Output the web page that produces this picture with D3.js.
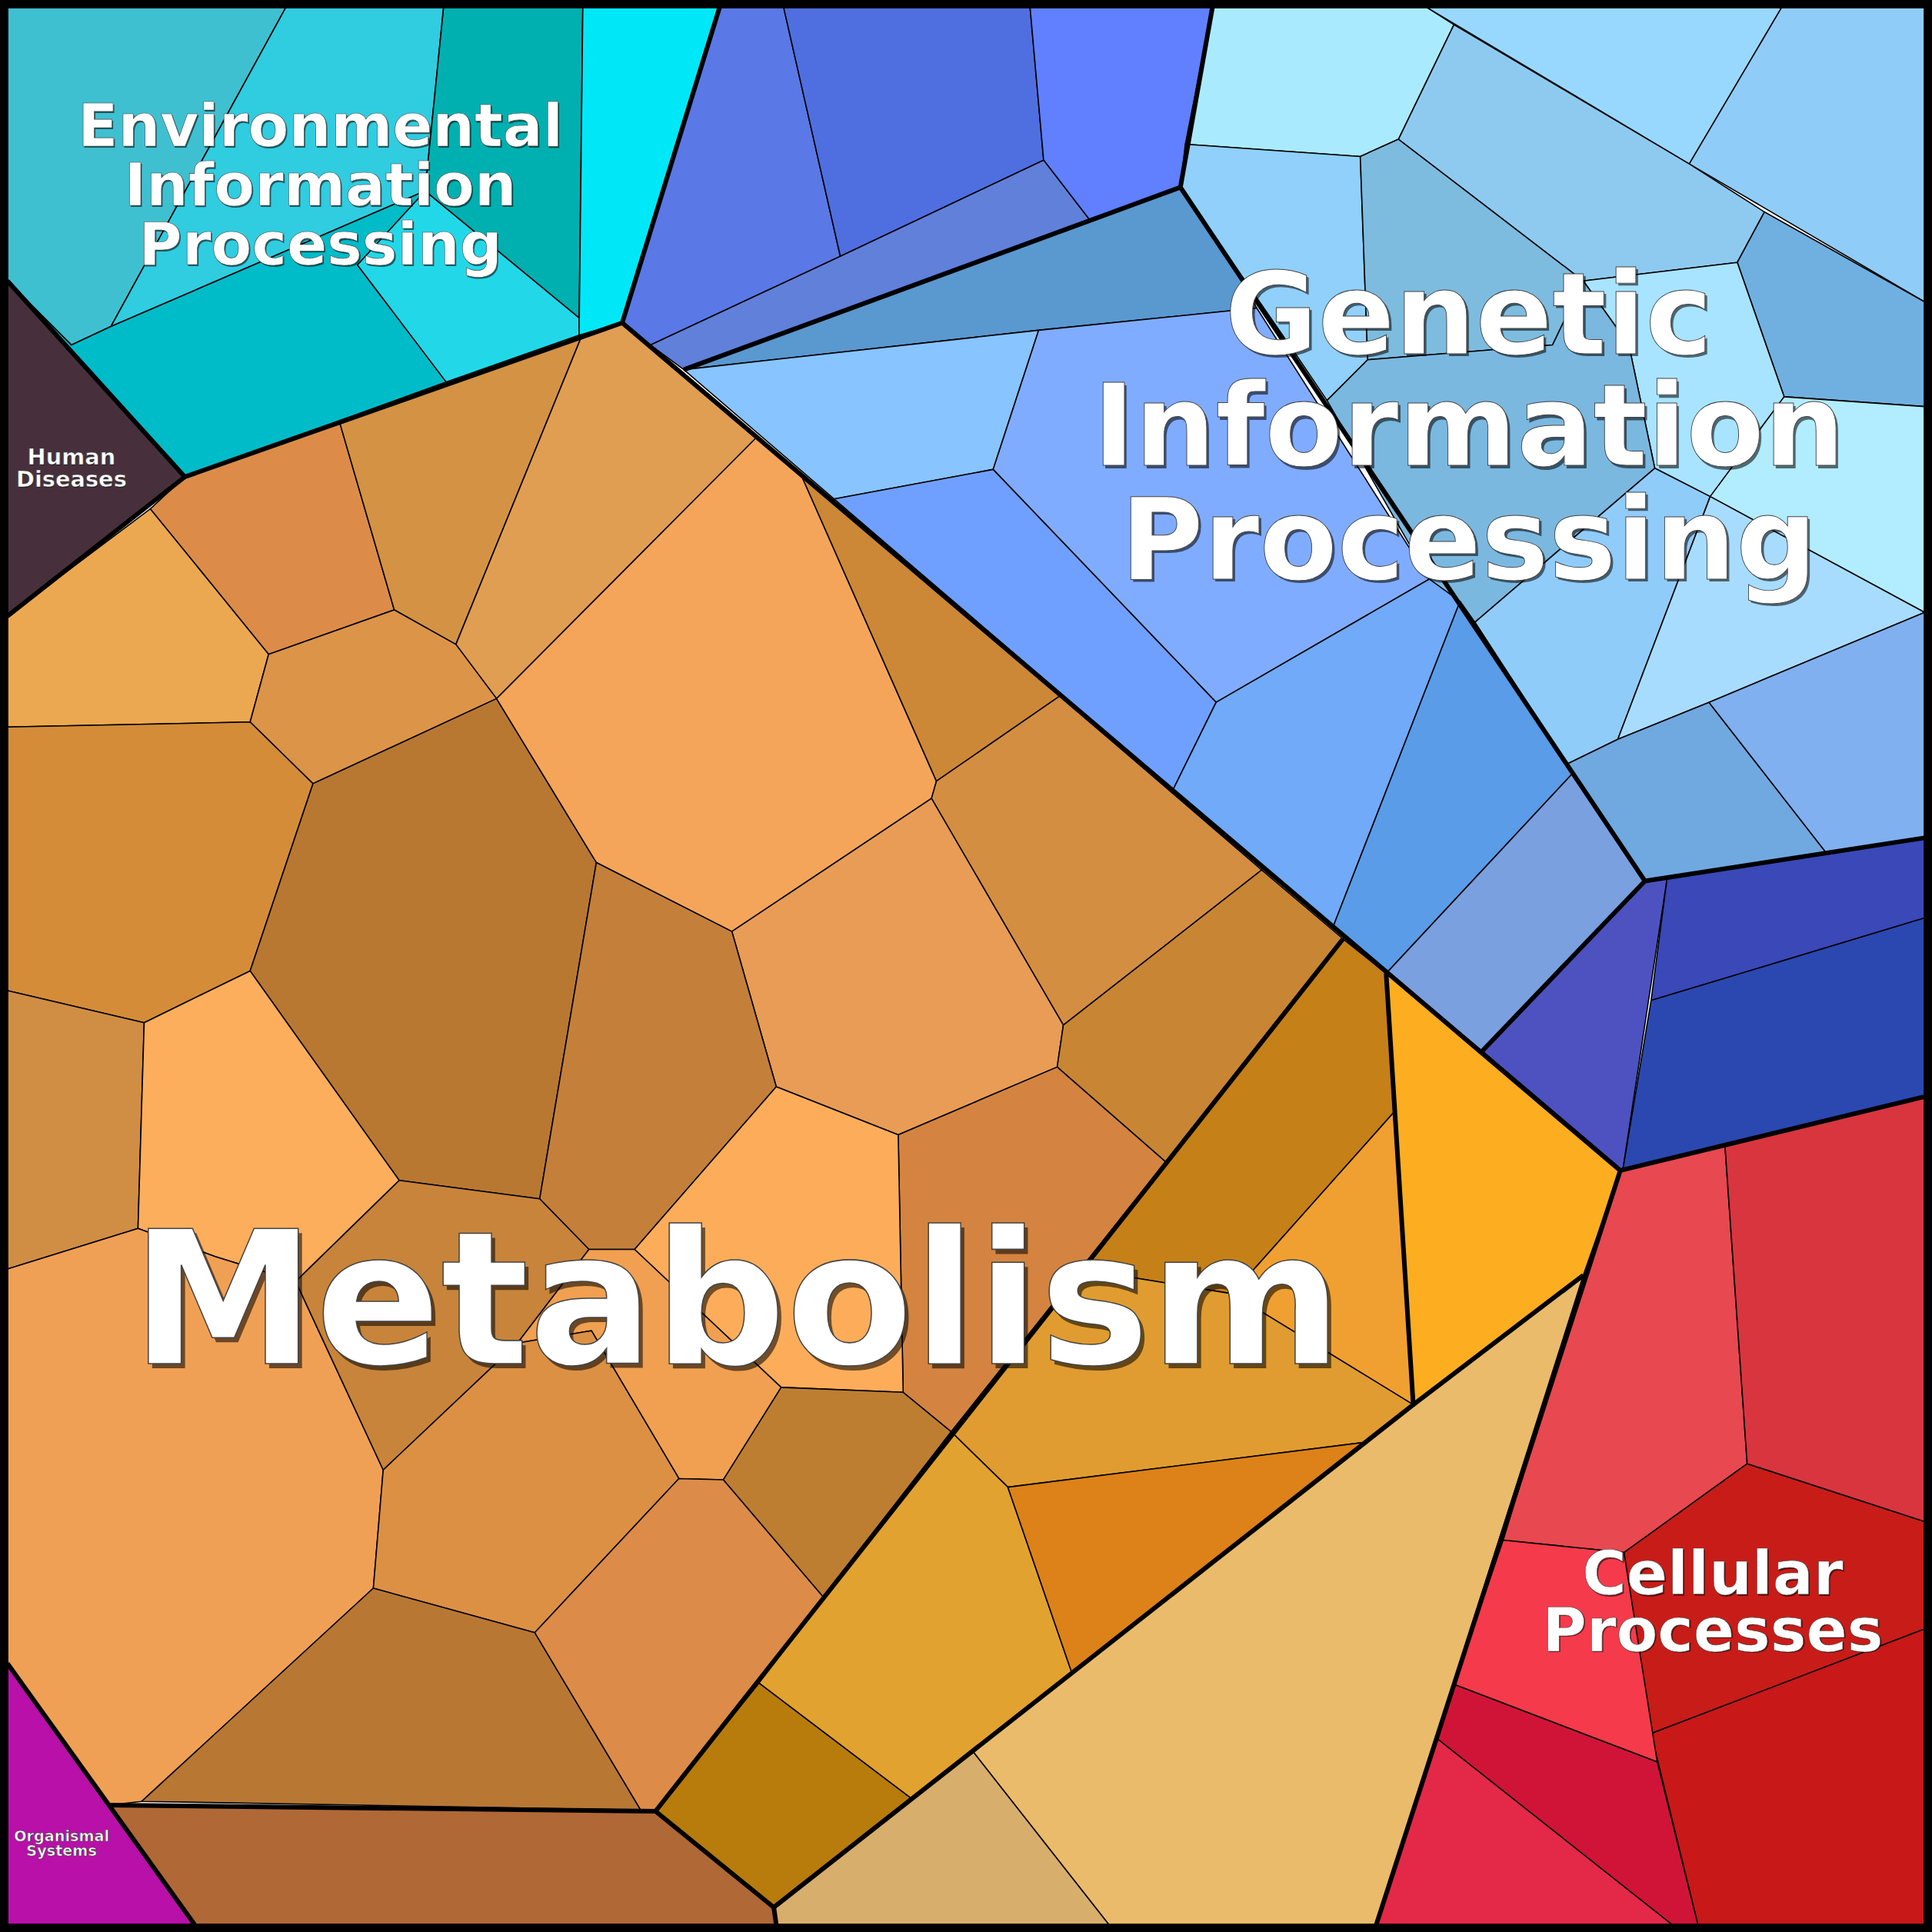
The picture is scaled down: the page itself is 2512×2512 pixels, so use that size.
<!DOCTYPE html>
<html>
<head>
<meta charset="utf-8">
<script src="https://cdn.jsdelivr.net/npm/d3@7"></script>
<style>
  body { margin: 0; background: #fff; }
  svg { display: block; }
</style>
</head>
<body>
<svg id="chart" width="2512" height="2512"></svg>
<script>
// Cell outlines (reference units, 0..1568), with fill colour
const environmentalCells = [
  ["#3fc0d0", [[6,6],[232,6],[90,265],[58,280],[6,228]]],
  ["#30cce0", [[232,6],[360,6],[345,155],[90,265]]],
  ["#00b0b0", [[360,6],[473,6],[470,258],[345,155]]],
  ["#00e8f8", [[473,6],[584,6],[505,262],[470,272]]],
  ["#22d8e8", [[345,155],[470,258],[470,272],[362,310],[290,215]]],
  ["#00bcc8", [[58,280],[90,265],[345,155],[290,215],[362,310],[150,387],[6,228]]]
];
const humanCells = [
  ["#47303c", [[6,228],[150,387],[6,500]]]
];
const organismalCells = [
  ["#b810a8", [[6,1350],[158,1562],[6,1562]]]
];
const geneticCells = [
  // upper-left dark blue group
  ["#5a78e6", [[584,6],[636,6],[682,208],[528,280],[505,262]]],
  ["#4f6fe0", [[636,6],[836,6],[847,130],[682,208]]],
  ["#6080ff", [[836,6],[984,6],[958,152],[884,178],[847,130]]],
  ["#6080da", [[528,280],[682,208],[847,130],[884,178],[555,300]]],
  // light blue group
  ["#aaeaff", [[984,6],[1158,6],[1180,20],[1135,113],[1104,127],[962,117]]],
  ["#98d8ff", [[1158,6],[1446,6],[1371,133]]],
  ["#90ccf8", [[1446,6],[1562,6],[1562,245],[1371,133]]],
  ["#8ecaf0", [[1180,20],[1371,133],[1432,172],[1410,213],[1285,228],[1135,113]]],
  ["#90d0fa", [[962,117],[1104,127],[1110,292],[1077,325],[1050,285],[958,152]]],
  ["#7dbcdf", [[1104,127],[1135,113],[1285,228],[1260,280],[1110,292]]],
  ["#70b0e0", [[1432,172],[1562,245],[1562,330],[1448,322],[1410,213]]],
  ["#a8e4ff", [[1410,213],[1448,322],[1388,403],[1343,380],[1322,280],[1285,228]]],
  ["#b2ecff", [[1448,322],[1562,330],[1562,497],[1388,403]]],
  ["#7ab8e0", [[1110,292],[1260,280],[1285,228],[1322,280],[1343,380],[1197,505],[1160,470],[1077,325]]],
  ["#90ccfa", [[1343,380],[1388,403],[1313,600],[1272,620],[1197,505]]],
  ["#a8dcff", [[1388,403],[1562,497],[1387,570],[1313,600]]],
  ["#70a8e0", [[1313,600],[1387,570],[1482,692],[1335,715],[1272,620]]],
  ["#80b0f0", [[1387,570],[1562,497],[1562,680],[1482,692]]],
  // middle blue group
  ["#5a98d0", [[555,300],[958,152],[1005,222],[1020,250],[843,268]]],
  ["#88c4ff", [[555,300],[843,268],[806,381],[677,405]]],
  ["#80acff", [[843,268],[1020,250],[1160,470],[987,570],[806,381]]],
  ["#70a0ff", [[677,405],[806,381],[987,570],[952,641]]],
  ["#70aaf8", [[987,570],[1160,470],[1185,488],[1082,752],[952,641]]],
  ["#5a9ce8", [[1185,488],[1197,505],[1276,628],[1125,790],[1082,752]]],
  ["#7aa0e0", [[1276,628],[1335,715],[1203,853],[1125,790]]],
  // indigo group
  ["#4e52c0", [[1203,853],[1335,715],[1353,713],[1317,950]]],
  ["#3a48b8", [[1353,713],[1562,680],[1562,745],[1340,812]]],
  ["#2a48b0", [[1340,812],[1562,745],[1562,890],[1317,950]]]
];
const cellularCells = [
  ["#e84850", [[1315,950],[1400,930],[1418,1188],[1318,1260],[1220,1250],[1285,1035]]],
  ["#d8353f", [[1400,930],[1562,890],[1562,1235],[1418,1188]]],
  ["#c81c18", [[1418,1188],[1562,1235],[1562,1322],[1340,1407],[1318,1260]]],
  ["#c81818", [[1340,1407],[1562,1322],[1562,1562],[1378,1562]]],
  ["#f53a4b", [[1220,1250],[1318,1260],[1345,1430],[1180,1367]]],
  ["#d01438", [[1180,1367],[1345,1430],[1378,1562],[1357,1562],[1165,1410]]],
  ["#e42848", [[1165,1410],[1357,1562],[1117,1562]]]
];
const metabolismCells = [
  ["#dc8c48", [[150,387],[276,344],[320,495],[218,531],[122,413]]],
  ["#d49244", [[276,344],[472,273],[370,523],[320,495]]],
  ["#e09e52", [[472,273],[505,262],[614,355],[403,567],[370,523]]],
  ["#eca850", [[6,500],[122,413],[218,531],[203,586],[6,590]]],
  ["#dc9448", [[218,531],[320,495],[370,523],[403,567],[254,636],[203,586]]],
  ["#d48c38", [[6,590],[203,586],[254,636],[203,788],[117,830],[6,804]]],
  ["#b87832", [[254,636],[403,567],[484,700],[438,973],[324,958],[203,788]]],
  ["#f5a55a", [[403,567],[614,355],[650,385],[760,634],[756,648],[594,756],[484,700]]],
  ["#cc8836", [[650,385],[860,565],[760,634]]],
  ["#d48e42", [[760,634],[860,565],[1024,706],[863,832],[756,648]]],
  ["#e89c56", [[594,756],[756,648],[863,832],[858,866],[729,921],[630,882]]],
  ["#c4803a", [[484,700],[594,756],[630,882],[515,1014],[478,1014],[438,973]]],
  ["#d08e44", [[6,804],[117,830],[112,997],[6,1030]]],
  ["#fcae5c", [[117,830],[203,788],[324,958],[240,1040],[175,1020],[112,997]]],
  ["#c88634", [[858,866],[863,832],[1024,706],[1090,762],[946,943]]],
  ["#d48440", [[729,921],[858,866],[946,943],[772,1162],[733,1130]]],
  ["#fdad5a", [[630,882],[729,921],[733,1130],[634,1126],[515,1014]]],
  ["#f0a055", [[6,1030],[112,997],[175,1020],[240,1040],[311,1193],[303,1289],[115,1462],[88,1465],[6,1350]]],
  ["#c8843a", [[240,1040],[324,958],[438,973],[478,1014],[420,1090],[311,1193]]],
  ["#f0a050", [[478,1014],[515,1014],[634,1126],[587,1201],[551,1200],[480,1080],[420,1090]]],
  ["#dc9044", [[311,1193],[420,1090],[480,1080],[551,1200],[434,1325],[303,1289]]],
  ["#be7e32", [[587,1201],[634,1126],[733,1130],[772,1162],[668,1296]]],
  ["#b87834", [[303,1289],[434,1325],[520,1469],[115,1462]]],
  ["#dc8c48", [[434,1325],[551,1200],[587,1201],[668,1296],[532,1470],[520,1469]]],
  ["#b06836", [[88,1465],[532,1470],[628,1548],[630,1562],[158,1562]]],
  // orange group
  ["#c68018", [[1090,762],[1125,790],[1131,903],[1000,1050],[877,1030],[946,943]]],
  ["#f0a030", [[1131,903],[1147,1140],[1000,1050]]],
  ["#e09c30", [[877,1030],[1000,1050],[1147,1140],[1112,1170],[818,1207],[772,1162]]],
  ["#e2a230", [[772,1162],[818,1207],[870,1358],[740,1460],[616,1366]]],
  ["#dc8218", [[818,1207],[1112,1170],[870,1358]]],
  ["#b87c0c", [[532,1470],[616,1366],[740,1460],[628,1548]]],
  ["#fcae20", [[1125,790],[1315,950],[1285,1035],[1147,1140]]],
  ["#eabb6a", [[870,1358],[1147,1140],[1285,1035],[1117,1562],[900,1562],[790,1422]]],
  ["#d8ae6c", [[790,1422],[900,1562],[630,1562],[628,1548],[740,1460]]]
];

// Thick boundaries between groups
const groupBorders = [
  [[6,228],[150,387],[505,262],[584,6]],
  [[150,387],[6,500]],
  [[505,262],[1315,950],[1562,890]],
  [[1315,950],[1117,1562]],
  [[6,1350],[158,1562]],
  [[555,300],[958,152],[984,6]],
  [[958,152],[1335,715],[1562,680]],
  [[1335,715],[1203,853]],
  [[1090,762],[532,1470],[628,1548],[630,1562]],
  [[88,1465],[532,1470]],
  [[1125,790],[1147,1140],[628,1548]],
  [[1147,1140],[1285,1035]]
];

const labels = [
  {lines: ["Environmental", "Information", "Processing"], x: 260, y: [102, 150, 198], size: 48},
  {lines: ["Genetic", "Information", "Processing"], x: 1192, y: [255, 346, 438], size: 92},
  {lines: ["Metabolism"], x: 598, y: [1055], size: 150},
  {lines: ["Cellular", "Processes"], x: 1390, y: [1277, 1323], size: 49},
  {lines: ["Human", "Diseases"], x: 58, y: [371, 389], size: 18},
  {lines: ["Organismal", "Systems"], x: 50, y: [1490, 1502], size: 12}
];

const svg = d3.select("#chart");
const s = d3.scaleLinear().domain([0, 1568]).range([0, 2512]);
const line = d3.line().x(d => s(d[0])).y(d => s(d[1]));

const allCells = [].concat(environmentalCells, humanCells, organismalCells,
  geneticCells, cellularCells, metabolismCells);

svg.append("g")
  .selectAll("path")
  .data(allCells)
  .join("path")
  .attr("d", d => line(d[1]) + "Z")
  .attr("fill", d => d[0])
  .attr("stroke", "#000")
  .attr("stroke-width", 1.6)
  .attr("stroke-linejoin", "round");

svg.append("g")
  .selectAll("path")
  .data(groupBorders)
  .join("path")
  .attr("d", d => line(d))
  .attr("fill", "none")
  .attr("stroke", "#000")
  .attr("stroke-width", 6)
  .attr("stroke-linejoin", "round");

// outer frame
svg.append("rect")
  .attr("x", s(3)).attr("y", s(3))
  .attr("width", s(1562)).attr("height", s(1562))
  .attr("fill", "none")
  .attr("stroke", "#000")
  .attr("stroke-width", 12);

const lg = svg.append("g")
  .attr("font-family", "DejaVu Sans, sans-serif")
  .attr("font-weight", "bold")
  .attr("text-anchor", "middle")
  .attr("dominant-baseline", "central");

labels.forEach(l => {
  l.lines.forEach((t, i) => {
    // soft dark shadow behind the label
    lg.append("text")
      .attr("x", s(l.x) + s(l.size) * 0.02)
      .attr("y", s(l.y[i]) + s(l.size) * 0.025)
      .attr("font-size", s(l.size))
      .attr("fill", "#000")
      .attr("opacity", 0.55)
      .text(t);
    lg.append("text")
      .attr("x", s(l.x))
      .attr("y", s(l.y[i]))
      .attr("font-size", s(l.size))
      .attr("fill", "#fff")
      .attr("stroke", "#444")
      .attr("stroke-width", Math.max(0.6, s(l.size) / 160))
      .text(t);
  });
});
</script>
</body>
</html>
